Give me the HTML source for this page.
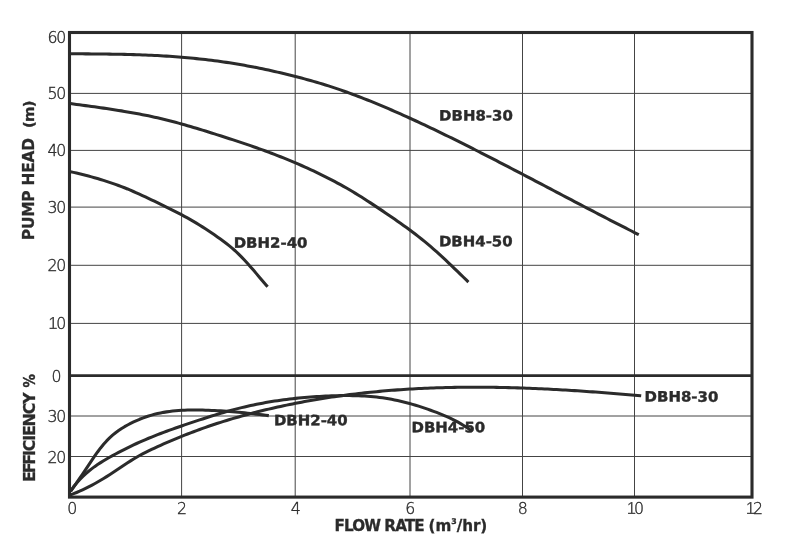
<!DOCTYPE html>
<html lang="en"><head><meta charset="utf-8"><title>Pump performance curves</title>
<style>html,body{margin:0;padding:0;background:#fff;overflow:hidden}body{width:796px;height:551px}svg{display:block;will-change:transform;transform:translateZ(0);filter:blur(0.35px)}</style></head>
<body>
<svg width="796" height="551" viewBox="0 0 796 551">
<rect width="796" height="551" fill="#fff"/>
<g stroke="#444" stroke-width="1" fill="none"><line x1="181.6" y1="32.5" x2="181.6" y2="497.1"/><line x1="295.2" y1="32.5" x2="295.2" y2="497.1"/><line x1="410.0" y1="32.5" x2="410.0" y2="497.1"/><line x1="522.5" y1="32.5" x2="522.5" y2="497.1"/><line x1="634.5" y1="32.5" x2="634.5" y2="497.1"/><line x1="69.5" y1="93.4" x2="752.0" y2="93.4"/><line x1="69.5" y1="150.4" x2="752.0" y2="150.4"/><line x1="69.5" y1="207.1" x2="752.0" y2="207.1"/><line x1="69.5" y1="265.3" x2="752.0" y2="265.3"/><line x1="69.5" y1="323.4" x2="752.0" y2="323.4"/><line x1="69.5" y1="416.0" x2="752.0" y2="416.0"/><line x1="69.5" y1="456.5" x2="752.0" y2="456.5"/></g>
<g stroke="#2b2b2b" fill="none" stroke-width="3.1"><rect x="69.5" y="32.5" width="682.5" height="464.6"/><line x1="69.5" y1="375.6" x2="752.0" y2="375.6" stroke-width="2.9"/></g>
<g stroke="#2b2b2b" fill="none" stroke-width="3.05" stroke-linejoin="round" stroke-linecap="butt"><path d="M70.5,53.78 L73.5,53.79 L76.5,53.81 L79.5,53.83 L82.5,53.85 L85.5,53.87 L88.5,53.89 L91.5,53.92 L94.5,53.94 L97.5,53.97 L100.5,54.00 L103.5,54.04 L106.5,54.07 L109.5,54.11 L112.5,54.16 L115.5,54.21 L118.5,54.26 L121.5,54.32 L124.5,54.39 L127.5,54.46 L130.5,54.54 L133.5,54.63 L136.5,54.72 L139.5,54.82 L142.5,54.93 L145.5,55.04 L148.5,55.17 L151.5,55.30 L154.5,55.45 L157.5,55.60 L160.5,55.77 L163.5,55.94 L166.5,56.12 L169.5,56.32 L172.5,56.53 L175.5,56.75 L178.5,56.98 L181.5,57.22 L184.5,57.47 L187.5,57.74 L190.5,58.02 L193.5,58.31 L196.5,58.61 L199.5,58.93 L202.5,59.25 L205.5,59.60 L208.5,59.95 L211.5,60.32 L214.5,60.70 L217.5,61.10 L220.5,61.51 L223.5,61.94 L226.5,62.38 L229.5,62.83 L232.5,63.30 L235.5,63.79 L238.5,64.29 L241.5,64.80 L244.5,65.33 L247.5,65.88 L250.5,66.44 L253.5,67.02 L256.5,67.61 L259.5,68.21 L262.5,68.83 L265.5,69.47 L268.5,70.11 L271.5,70.77 L274.5,71.45 L277.5,72.13 L280.5,72.83 L283.5,73.55 L286.5,74.27 L289.5,75.01 L292.5,75.75 L295.5,76.51 L298.5,77.28 L301.5,78.07 L304.5,78.86 L307.5,79.68 L310.5,80.51 L313.5,81.35 L316.5,82.22 L319.5,83.11 L322.5,84.01 L325.5,84.94 L328.5,85.90 L331.5,86.87 L334.5,87.86 L337.5,88.87 L340.5,89.90 L343.5,90.95 L346.5,92.02 L349.5,93.11 L352.5,94.22 L355.5,95.34 L358.5,96.48 L361.5,97.63 L364.5,98.80 L367.5,99.99 L370.5,101.19 L373.5,102.41 L376.5,103.64 L379.5,104.88 L382.5,106.14 L385.5,107.41 L388.5,108.69 L391.5,109.98 L394.5,111.29 L397.5,112.61 L400.5,113.94 L403.5,115.28 L406.5,116.63 L409.5,117.99 L412.5,119.36 L415.5,120.74 L418.5,122.13 L421.5,123.53 L424.5,124.94 L427.5,126.36 L430.5,127.79 L433.5,129.22 L436.5,130.66 L439.5,132.11 L442.5,133.57 L445.5,135.03 L448.5,136.50 L451.5,137.98 L454.5,139.46 L457.5,140.95 L460.5,142.45 L463.5,143.94 L466.5,145.45 L469.5,146.96 L472.5,148.47 L475.5,149.99 L478.5,151.51 L481.5,153.04 L484.5,154.57 L487.5,156.11 L490.5,157.64 L493.5,159.19 L496.5,160.73 L499.5,162.28 L502.5,163.83 L505.5,165.39 L508.5,166.94 L511.5,168.50 L514.5,170.06 L517.5,171.63 L520.5,173.19 L523.5,174.76 L526.5,176.33 L529.5,177.90 L532.5,179.47 L535.5,181.05 L538.5,182.62 L541.5,184.20 L544.5,185.77 L547.5,187.35 L550.5,188.93 L553.5,190.50 L556.5,192.08 L559.5,193.66 L562.5,195.23 L565.5,196.81 L568.5,198.39 L571.5,199.96 L574.5,201.53 L577.5,203.11 L580.5,204.68 L583.5,206.25 L586.5,207.81 L589.5,209.38 L592.5,210.94 L595.5,212.51 L598.5,214.07 L601.5,215.62 L604.5,217.18 L607.5,218.73 L610.5,220.28 L613.5,221.82 L616.5,223.36 L619.5,224.90 L622.5,226.43 L625.5,227.97 L628.5,229.49 L631.5,231.01 L634.5,232.53 L637.5,234.05 L638.8,234.70"/><path d="M70.5,103.60 L73.5,104.00 L76.5,104.41 L79.5,104.81 L82.5,105.21 L85.5,105.62 L88.5,106.03 L91.5,106.44 L94.5,106.85 L97.5,107.27 L100.5,107.69 L103.5,108.12 L106.5,108.56 L109.5,109.01 L112.5,109.46 L115.5,109.92 L118.5,110.40 L121.5,110.88 L124.5,111.38 L127.5,111.89 L130.5,112.41 L133.5,112.94 L136.5,113.50 L139.5,114.06 L142.5,114.64 L145.5,115.25 L148.5,115.86 L151.5,116.50 L154.5,117.16 L157.5,117.83 L160.5,118.53 L163.5,119.25 L166.5,119.99 L169.5,120.75 L172.5,121.53 L175.5,122.33 L178.5,123.14 L181.5,123.97 L184.5,124.82 L187.5,125.68 L190.5,126.55 L193.5,127.43 L196.5,128.33 L199.5,129.24 L202.5,130.15 L205.5,131.07 L208.5,132.01 L211.5,132.94 L214.5,133.89 L217.5,134.84 L220.5,135.79 L223.5,136.75 L226.5,137.72 L229.5,138.69 L232.5,139.67 L235.5,140.65 L238.5,141.64 L241.5,142.64 L244.5,143.64 L247.5,144.66 L250.5,145.68 L253.5,146.72 L256.5,147.77 L259.5,148.84 L262.5,149.92 L265.5,151.02 L268.5,152.13 L271.5,153.26 L274.5,154.41 L277.5,155.57 L280.5,156.75 L283.5,157.95 L286.5,159.16 L289.5,160.39 L292.5,161.64 L295.5,162.91 L298.5,164.20 L301.5,165.51 L304.5,166.84 L307.5,168.19 L310.5,169.56 L313.5,170.95 L316.5,172.37 L319.5,173.81 L322.5,175.28 L325.5,176.78 L328.5,178.30 L331.5,179.85 L334.5,181.43 L337.5,183.03 L340.5,184.67 L343.5,186.34 L346.5,188.04 L349.5,189.78 L352.5,191.55 L355.5,193.35 L358.5,195.19 L361.5,197.06 L364.5,198.97 L367.5,200.91 L370.5,202.88 L373.5,204.87 L376.5,206.87 L379.5,208.88 L382.5,210.89 L385.5,212.92 L388.5,214.95 L391.5,217.00 L394.5,219.06 L397.5,221.15 L400.5,223.26 L403.5,225.39 L406.5,227.56 L409.5,229.77 L412.5,232.01 L415.5,234.29 L418.5,236.62 L421.5,239.00 L424.5,241.43 L427.5,243.92 L430.5,246.46 L433.5,249.07 L436.5,251.73 L439.5,254.44 L442.5,257.20 L445.5,259.99 L448.5,262.82 L451.5,265.68 L454.5,268.56 L457.5,271.46 L460.5,274.37 L463.5,277.28 L466.5,280.20 L468.4,282.04"/><path d="M70.5,171.70 L73.5,172.37 L76.5,173.06 L79.5,173.77 L82.5,174.51 L85.5,175.27 L88.5,176.05 L91.5,176.86 L94.5,177.70 L97.5,178.57 L100.5,179.46 L103.5,180.38 L106.5,181.34 L109.5,182.33 L112.5,183.35 L115.5,184.40 L118.5,185.49 L121.5,186.61 L124.5,187.78 L127.5,188.97 L130.4,190.21 L133.4,191.49 L136.4,192.80 L139.4,194.15 L142.4,195.52 L145.4,196.92 L148.4,198.34 L151.4,199.78 L154.4,201.24 L157.4,202.70 L160.4,204.18 L163.4,205.66 L166.4,207.14 L169.4,208.61 L172.4,210.10 L175.4,211.60 L178.4,213.13 L181.4,214.69 L184.4,216.30 L187.4,217.94 L190.4,219.64 L193.4,221.38 L196.4,223.16 L199.4,224.99 L202.4,226.86 L205.4,228.77 L208.4,230.73 L211.4,232.73 L214.4,234.78 L217.4,236.88 L220.4,239.02 L223.4,241.21 L226.4,243.48 L229.4,245.85 L232.4,248.35 L235.4,251.00 L238.4,253.83 L241.4,256.83 L244.4,259.98 L247.4,263.25 L250.4,266.64 L253.4,270.10 L256.4,273.62 L259.4,277.18 L262.4,280.76 L265.4,284.32 L267.6,286.86"/><path d="M70.6,491.35 L73.6,487.14 L76.6,482.84 L79.6,478.47 L82.6,474.04 L85.6,469.57 L88.6,465.08 L91.6,460.60 L94.6,456.21 L97.6,451.97 L100.6,447.96 L103.6,444.26 L106.6,440.91 L109.6,437.90 L112.6,435.18 L115.6,432.74 L118.6,430.53 L121.6,428.52 L124.6,426.69 L127.6,425.00 L130.6,423.42 L133.6,421.95 L136.6,420.57 L139.6,419.29 L142.6,418.10 L145.6,417.02 L148.6,416.02 L151.6,415.12 L154.6,414.31 L157.6,413.59 L160.6,412.94 L163.6,412.37 L166.6,411.88 L169.6,411.45 L172.6,411.09 L175.6,410.79 L178.6,410.54 L181.6,410.35 L184.6,410.20 L187.6,410.10 L190.6,410.04 L193.6,410.01 L196.6,410.02 L199.6,410.05 L202.6,410.10 L205.6,410.18 L208.6,410.28 L211.6,410.40 L214.6,410.54 L217.6,410.70 L220.6,410.88 L223.6,411.07 L226.6,411.28 L229.6,411.51 L232.6,411.76 L235.6,412.01 L238.6,412.29 L241.6,412.57 L244.6,412.87 L247.6,413.18 L250.6,413.50 L253.6,413.83 L256.6,414.17 L259.6,414.52 L262.6,414.88 L265.6,415.25 L268.6,415.62 L268.8,415.65"/><path d="M70.6,490.95 L73.6,486.83 L76.6,483.10 L79.6,479.72 L82.6,476.65 L85.6,473.84 L88.6,471.26 L91.6,468.87 L94.6,466.64 L97.6,464.56 L100.6,462.61 L103.6,460.75 L106.6,458.98 L109.6,457.27 L112.6,455.60 L115.6,453.97 L118.6,452.37 L121.6,450.80 L124.6,449.27 L127.6,447.78 L130.6,446.32 L133.6,444.89 L136.6,443.50 L139.6,442.14 L142.6,440.82 L145.6,439.53 L148.6,438.27 L151.6,437.04 L154.6,435.84 L157.6,434.66 L160.6,433.50 L163.6,432.37 L166.6,431.26 L169.6,430.17 L172.6,429.09 L175.6,428.03 L178.6,426.98 L181.6,425.95 L184.6,424.92 L187.6,423.91 L190.6,422.90 L193.6,421.89 L196.6,420.90 L199.6,419.91 L202.6,418.93 L205.6,417.96 L208.6,417.01 L211.6,416.06 L214.6,415.13 L217.6,414.22 L220.6,413.32 L223.6,412.45 L226.6,411.59 L229.6,410.75 L232.6,409.93 L235.6,409.14 L238.6,408.37 L241.6,407.63 L244.6,406.91 L247.6,406.22 L250.6,405.55 L253.6,404.91 L256.6,404.29 L259.6,403.70 L262.6,403.13 L265.6,402.59 L268.6,402.06 L271.6,401.57 L274.6,401.09 L277.6,400.64 L280.6,400.20 L283.6,399.79 L286.6,399.40 L289.6,399.03 L292.6,398.69 L295.6,398.36 L298.6,398.05 L301.6,397.76 L304.6,397.49 L307.6,397.24 L310.6,397.01 L313.6,396.79 L316.6,396.59 L319.6,396.41 L322.6,396.25 L325.6,396.11 L328.6,395.97 L331.6,395.86 L334.6,395.76 L337.6,395.68 L340.6,395.62 L343.6,395.58 L346.6,395.57 L349.6,395.58 L352.6,395.62 L355.6,395.68 L358.6,395.78 L361.6,395.91 L364.6,396.07 L367.6,396.27 L370.6,396.50 L373.6,396.78 L376.6,397.09 L379.6,397.45 L382.6,397.85 L385.6,398.30 L388.6,398.79 L391.6,399.33 L394.6,399.92 L397.6,400.55 L400.6,401.23 L403.6,401.94 L406.6,402.70 L409.6,403.51 L412.6,404.35 L415.6,405.23 L418.6,406.15 L421.6,407.11 L424.6,408.11 L427.6,409.14 L430.6,410.21 L433.6,411.31 L436.6,412.44 L439.6,413.62 L442.6,414.84 L445.6,416.11 L448.6,417.45 L451.6,418.87 L454.6,420.36 L457.6,421.95 L460.6,423.64 L463.6,425.44 L466.6,427.36 L469.6,429.41 L472.2,431.30"/><path d="M70.6,494.81 L73.6,493.69 L76.6,492.48 L79.6,491.20 L82.6,489.84 L85.6,488.41 L88.6,486.92 L91.6,485.35 L94.6,483.72 L97.6,482.03 L100.6,480.27 L103.6,478.46 L106.6,476.59 L109.6,474.67 L112.6,472.71 L115.6,470.72 L118.6,468.71 L121.6,466.70 L124.6,464.71 L127.6,462.75 L130.6,460.84 L133.6,458.98 L136.6,457.21 L139.6,455.52 L142.6,453.92 L145.6,452.40 L148.6,450.93 L151.6,449.49 L154.6,448.08 L157.6,446.69 L160.6,445.32 L163.6,443.98 L166.6,442.65 L169.6,441.35 L172.6,440.07 L175.6,438.81 L178.6,437.57 L181.6,436.36 L184.6,435.16 L187.6,433.99 L190.6,432.83 L193.6,431.70 L196.6,430.58 L199.6,429.48 L202.6,428.41 L205.6,427.35 L208.6,426.31 L211.6,425.29 L214.6,424.29 L217.6,423.31 L220.6,422.34 L223.6,421.39 L226.6,420.46 L229.6,419.55 L232.6,418.65 L235.6,417.77 L238.6,416.91 L241.6,416.06 L244.6,415.23 L247.6,414.41 L250.6,413.61 L253.6,412.83 L256.6,412.06 L259.6,411.30 L262.6,410.56 L265.6,409.83 L268.6,409.12 L271.6,408.42 L274.6,407.74 L277.6,407.06 L280.6,406.41 L283.6,405.76 L286.6,405.13 L289.6,404.51 L292.6,403.90 L295.6,403.30 L298.6,402.72 L301.6,402.15 L304.6,401.59 L307.6,401.05 L310.6,400.51 L313.6,399.99 L316.6,399.48 L319.6,398.98 L322.6,398.49 L325.6,398.02 L328.6,397.56 L331.6,397.10 L334.6,396.66 L337.6,396.24 L340.6,395.82 L343.6,395.41 L346.6,395.01 L349.6,394.63 L352.6,394.26 L355.6,393.89 L358.6,393.54 L361.6,393.20 L364.6,392.87 L367.6,392.55 L370.6,392.24 L373.6,391.94 L376.6,391.65 L379.6,391.37 L382.6,391.10 L385.6,390.84 L388.6,390.59 L391.6,390.34 L394.6,390.11 L397.6,389.89 L400.6,389.68 L403.6,389.48 L406.6,389.29 L409.6,389.10 L412.6,388.93 L415.6,388.76 L418.6,388.60 L421.6,388.46 L424.6,388.32 L427.6,388.19 L430.6,388.06 L433.6,387.95 L436.6,387.85 L439.6,387.75 L442.6,387.66 L445.6,387.58 L448.6,387.51 L451.6,387.45 L454.6,387.39 L457.6,387.34 L460.6,387.30 L463.6,387.27 L466.6,387.24 L469.6,387.22 L472.6,387.21 L475.6,387.21 L478.6,387.21 L481.6,387.23 L484.6,387.24 L487.6,387.27 L490.6,387.30 L493.6,387.34 L496.6,387.39 L499.6,387.44 L502.6,387.50 L505.6,387.56 L508.6,387.63 L511.6,387.71 L514.6,387.79 L517.6,387.88 L520.6,387.98 L523.6,388.08 L526.6,388.19 L529.6,388.30 L532.6,388.42 L535.6,388.55 L538.6,388.68 L541.6,388.81 L544.6,388.95 L547.6,389.10 L550.6,389.25 L553.6,389.41 L556.6,389.57 L559.6,389.74 L562.6,389.91 L565.6,390.08 L568.6,390.26 L571.6,390.45 L574.6,390.64 L577.6,390.83 L580.6,391.03 L583.6,391.23 L586.6,391.44 L589.6,391.65 L592.6,391.86 L595.6,392.08 L598.6,392.30 L601.6,392.52 L604.6,392.75 L607.6,392.98 L610.6,393.22 L613.6,393.46 L616.6,393.70 L619.6,393.95 L622.6,394.20 L625.6,394.45 L628.6,394.70 L631.6,394.96 L634.6,395.22 L637.6,395.48 L640.6,395.74 L641.2,395.80"/></g>
<g font-family="DejaVu Sans Light, DejaVu Sans, Liberation Sans, sans-serif" font-size="15.3" fill="#2c2c2c" stroke="#2c2c2c" stroke-width="0.38" letter-spacing="-1.25"><text transform="translate(65.00,42.9) scale(1.03,1)" text-anchor="end">60</text><text transform="translate(65.00,99.1) scale(1.03,1)" text-anchor="end">50</text><text transform="translate(65.00,156.1) scale(1.03,1)" text-anchor="end">40</text><text transform="translate(65.00,213.1) scale(1.03,1)" text-anchor="end">30</text><text transform="translate(65.00,271.2) scale(1.03,1)" text-anchor="end">20</text><text transform="translate(65.00,329.1) scale(1.03,1)" text-anchor="end"><tspan font-family="Liberation Sans, sans-serif" stroke="none" fill="#484848" font-size="16.4">1</tspan>0</text><text transform="translate(65.00,422.1) scale(1.03,1)" text-anchor="end">30</text><text transform="translate(65.00,462.6) scale(1.03,1)" text-anchor="end">20</text><text transform="translate(60.20,382) scale(1.03,1)" text-anchor="end">0</text><text transform="translate(181.35,514.2) scale(1.03,1)" text-anchor="middle">2</text><text transform="translate(295.15,514.2) scale(1.03,1)" text-anchor="middle">4</text><text transform="translate(409.55,514.2) scale(1.03,1)" text-anchor="middle">6</text><text transform="translate(522.05,514.2) scale(1.03,1)" text-anchor="middle">8</text><text transform="translate(634.40,514.2) scale(1.03,1)" text-anchor="middle" letter-spacing="-2.0"><tspan font-family="Liberation Sans, sans-serif" stroke="none" fill="#484848" font-size="16.4">1</tspan>0</text><text transform="translate(753.40,514.2) scale(1.03,1)" text-anchor="middle" letter-spacing="-2.0"><tspan font-family="Liberation Sans, sans-serif" stroke="none" fill="#484848" font-size="16.4">1</tspan>2</text><text transform="translate(67.30,514.2) scale(1.03,1)" text-anchor="start">0</text></g>
<g font-family="DejaVu Sans, Liberation Sans, sans-serif" font-weight="bold" font-size="14.3" fill="#2b2b2b" stroke="#2b2b2b" stroke-width="0.4" letter-spacing="0.02"><text transform="translate(439.1,120.4) rotate(0.03) scale(1.045,1)">DBH8-30</text><text transform="translate(438.9,246.3) rotate(0.03) scale(1.045,1)">DBH4-50</text><text transform="translate(233.7,247.8) rotate(0.03) scale(1.045,1)">DBH2-40</text><text transform="translate(273.9,425.3) rotate(0.03) scale(1.045,1)">DBH2-40</text><text transform="translate(411.5,432.2) rotate(0.03) scale(1.045,1)">DBH4-50</text><text transform="translate(644.6,401.6) rotate(0.03) scale(1.045,1)">DBH8-30</text></g>
<g font-family="DejaVu Sans, Liberation Sans, sans-serif" font-weight="bold" fill="#2b2b2b" stroke="#2b2b2b" stroke-width="0.3" style="white-space:pre"><text transform="translate(34.3,240.2) rotate(-90)" font-size="15.4" letter-spacing="-0.2">PUMP HEAD</text><text transform="translate(34.1,128.0) rotate(-90)" font-size="14.8" letter-spacing="-0.7">(m)</text><text transform="translate(35.2,481.9) rotate(-90)" font-size="15.8" letter-spacing="-1.1"><tspan letter-spacing="-2.2">EFF</tspan>ICIENCY</text><text transform="translate(35.2,387.6) rotate(-90) scale(1,1.16)" font-size="13.4">%</text><text x="334.5" y="531.2" font-size="15.2" letter-spacing="-0.92">FLOW RATE</text><text x="428.6" y="531.2" font-size="15.2" letter-spacing="-0.05">(m<tspan font-size="7.8" dy="-7">3</tspan><tspan dy="7">/hr)</tspan></text></g>
</svg>
</body></html>
